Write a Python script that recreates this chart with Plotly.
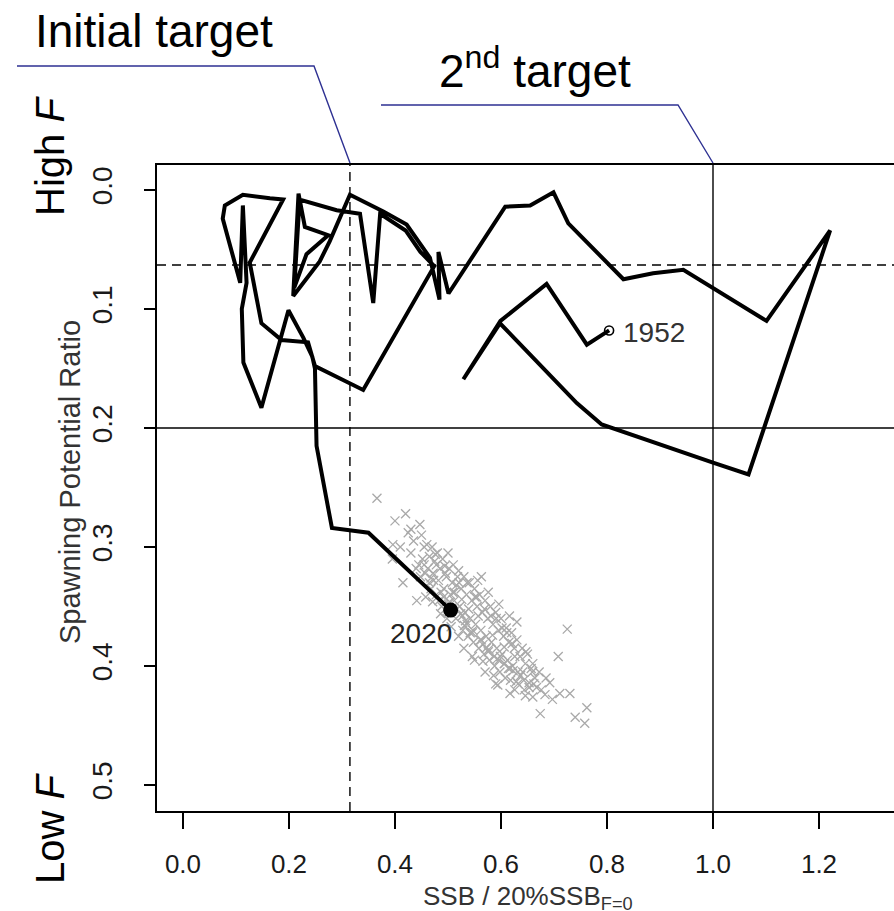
import plotly.graph_objects as go

# ---------------- data ----------------
x_ticks = [0.0, 0.2, 0.4, 0.6, 0.8, 1.0, 1.2]
x_tick_labels = ["0.0", "0.2", "0.4", "0.6", "0.8", "1.0", "1.2"]
y_ticks = [0.0, 0.1, 0.2, 0.3, 0.4, 0.5]
y_tick_labels = ["0.0", "0.1", "0.2", "0.3", "0.4", "0.5"]

initial_target_x = 0.315
initial_target_y = 0.063
second_target_x = 1.0
second_target_y = 0.2

start_year = "1952"
end_year = "2020"

traj_x = [0.804, 0.762, 0.686, 0.599, 0.529, 0.598, 0.743, 0.790, 1.000, 1.067, 1.221, 1.101,
          0.944, 0.887, 0.831, 0.727, 0.699, 0.655, 0.608,
          0.501, 0.482, 0.484, 0.466, 0.444, 0.422, 0.378, 0.315, 0.277, 0.258, 0.208,
          0.218, 0.230, 0.274, 0.233, 0.210, 0.220, 0.290, 0.334, 0.359, 0.372, 0.420,
          0.448, 0.474, 0.340, 0.249, 0.236, 0.186, 0.148, 0.126, 0.189, 0.164, 0.113,
          0.079, 0.075, 0.094, 0.108, 0.113, 0.120, 0.111, 0.114, 0.148, 0.199, 0.227,
          0.244, 0.249, 0.252, 0.281, 0.315, 0.350, 0.505]
traj_y = [0.118, 0.130, 0.079, 0.110, 0.159, 0.112, 0.179, 0.197, 0.229, 0.239, 0.034, 0.110,
          0.067, 0.070, 0.075, 0.028, 0.002, 0.013, 0.014,
          0.087, 0.052, 0.092, 0.057, 0.043, 0.029, 0.018, 0.004, 0.043, 0.060, 0.089,
          0.003, 0.031, 0.038, 0.054, 0.082, 0.008, 0.017, 0.020, 0.095, 0.020, 0.034,
          0.052, 0.064, 0.168, 0.148, 0.128, 0.126, 0.112, 0.061, 0.008, 0.007, 0.004,
          0.013, 0.024, 0.057, 0.078, 0.013, 0.078, 0.100, 0.145, 0.183, 0.101, 0.124,
          0.140, 0.150, 0.215, 0.284, 0.286, 0.288, 0.353]

cloud_x = [0.366, 0.447, 0.425, 0.396, 0.441, 0.415, 0.725, 0.630, 0.758, 0.762, 0.740, 0.674,
           0.660, 0.711, 0.730, 0.708, 0.692, 0.617, 0.594,
           0.430, 0.430, 0.435, 0.440,
           0.450, 0.452, 0.448, 0.455,
           0.460, 0.462, 0.465, 0.458,
           0.470, 0.472, 0.475, 0.468,
           0.480, 0.482, 0.478, 0.485,
           0.490, 0.492, 0.488, 0.495,
           0.500, 0.502, 0.505, 0.498, 0.508,
           0.510, 0.512, 0.515, 0.518,
           0.520, 0.522, 0.525, 0.528,
           0.530, 0.532, 0.535, 0.538,
           0.540, 0.542, 0.545, 0.548,
           0.550, 0.552, 0.555, 0.558,
           0.560, 0.562, 0.565, 0.568, 0.563,
           0.570, 0.572, 0.575, 0.578,
           0.580, 0.582, 0.585, 0.588,
           0.590, 0.592, 0.595, 0.598,
           0.600, 0.602, 0.605, 0.608,
           0.610, 0.612, 0.615, 0.618,
           0.620, 0.622, 0.625,
           0.630, 0.632, 0.636,
           0.640, 0.643, 0.646,
           0.650, 0.653, 0.657,
           0.660, 0.664,
           0.672, 0.676,
           0.685,
           0.400, 0.410, 0.395, 0.420,
           0.520, 0.530, 0.550, 0.570, 0.590,
           0.445, 0.457, 0.473, 0.487, 0.503, 0.517, 0.533, 0.547, 0.563, 0.577, 0.593,
           0.607, 0.623, 0.637, 0.653, 0.667, 0.683, 0.697,
           0.465, 0.478, 0.492, 0.507, 0.521, 0.536, 0.551, 0.566, 0.581, 0.596, 0.611,
           0.626, 0.641, 0.497, 0.512, 0.527, 0.542, 0.557, 0.572, 0.587, 0.602, 0.617,
           0.632, 0.647, 0.662,
           0.455, 0.468, 0.476, 0.483, 0.494, 0.501, 0.509, 0.516, 0.524, 0.531,
           0.539, 0.546, 0.554, 0.561, 0.569, 0.576, 0.584, 0.591, 0.599, 0.606,
           0.614, 0.621, 0.629, 0.644, 0.659,
           0.471, 0.486, 0.506, 0.526, 0.546, 0.566, 0.586, 0.606, 0.626, 0.646,
           0.536, 0.556, 0.576, 0.596, 0.616]
cloud_y = [0.259, 0.281, 0.288, 0.298, 0.345, 0.330, 0.369, 0.363, 0.448, 0.435, 0.443, 0.440,
           0.426, 0.423, 0.423, 0.392, 0.414, 0.423, 0.416,
           0.285, 0.305, 0.295, 0.318,
           0.290, 0.310, 0.325, 0.300,
           0.298, 0.318, 0.330, 0.342,
           0.300, 0.322, 0.312, 0.335,
           0.305, 0.328, 0.340, 0.318,
           0.310, 0.335, 0.350, 0.322,
           0.305, 0.318, 0.340, 0.360, 0.330,
           0.315, 0.345, 0.360, 0.325,
           0.320, 0.350, 0.335, 0.370,
           0.325, 0.355, 0.340, 0.375,
           0.330, 0.360, 0.345, 0.380,
           0.335, 0.365, 0.350, 0.385,
           0.340, 0.370, 0.355, 0.390, 0.325,
           0.345, 0.375, 0.360, 0.395,
           0.350, 0.380, 0.365, 0.400,
           0.355, 0.385, 0.370, 0.405,
           0.360, 0.390, 0.375, 0.410,
           0.368, 0.395, 0.380, 0.412,
           0.372, 0.400, 0.385,
           0.378, 0.405, 0.392,
           0.385, 0.412, 0.398,
           0.390, 0.418, 0.402,
           0.398, 0.410,
           0.405, 0.420,
           0.410,
           0.278, 0.300, 0.310, 0.272,
           0.375, 0.385, 0.395, 0.405, 0.415,
           0.315, 0.322, 0.328, 0.338, 0.346, 0.352, 0.362, 0.370, 0.378, 0.386, 0.394,
           0.398, 0.404, 0.408, 0.414, 0.418, 0.424, 0.428,
           0.308, 0.315, 0.342, 0.352, 0.330, 0.365, 0.342, 0.382, 0.358, 0.395, 0.372,
           0.392, 0.405, 0.325, 0.338, 0.358, 0.372, 0.358, 0.385, 0.392, 0.368, 0.402,
           0.415, 0.388, 0.415,
           0.315, 0.326, 0.306, 0.345, 0.316, 0.348, 0.338, 0.332, 0.356, 0.366,
           0.352, 0.372, 0.342, 0.378, 0.352, 0.388, 0.374, 0.360, 0.392, 0.384,
           0.402, 0.381, 0.413, 0.420, 0.405,
           0.346, 0.356, 0.367, 0.344, 0.392, 0.396, 0.408, 0.398, 0.420, 0.425,
           0.330, 0.328, 0.338, 0.348, 0.358]

# ---------------- layout helpers ----------------
W, H = 894, 911
ML, MR, MT, MB = 157, 0, 165, 100
FONT = "Liberation Sans, Arial, Helvetica, sans-serif"


def px_x(p):
    return (p - ML) / (W - ML - MR)


def px_y(p):
    return (H - MB - p) / (H - MT - MB)


fig = go.Figure()

fig.add_trace(go.Scatter(
    x=cloud_x, y=cloud_y, mode="markers",
    marker=dict(symbol="x-thin-open", size=9, color="#a9a9a9",
                line=dict(width=1.3, color="#a9a9a9")),
    hoverinfo="skip", showlegend=False))

fig.add_trace(go.Scatter(
    x=traj_x, y=traj_y, mode="lines",
    line=dict(color="black", width=4),
    hoverinfo="skip", showlegend=False))

fig.add_trace(go.Scatter(
    x=[traj_x[0]], y=[traj_y[0]], mode="markers",
    marker=dict(symbol="circle-open", size=9, color="black", line=dict(width=1.6)),
    showlegend=False, hoverinfo="skip"))

fig.add_trace(go.Scatter(
    x=[traj_x[-1]], y=[traj_y[-1]], mode="markers",
    marker=dict(symbol="circle", size=15, color="black"),
    showlegend=False, hoverinfo="skip"))

shapes = [
    dict(type="line", xref="x", yref="paper", x0=initial_target_x, x1=initial_target_x,
         y0=0, y1=1, line=dict(color="black", width=1.4, dash="9px,6px")),
    dict(type="line", xref="x", yref="paper", x0=second_target_x, x1=second_target_x,
         y0=0, y1=1, line=dict(color="black", width=1.4)),
    dict(type="line", xref="paper", yref="y", x0=0, x1=1,
         y0=initial_target_y, y1=initial_target_y,
         line=dict(color="black", width=1.4, dash="9px,6px")),
    dict(type="line", xref="paper", yref="y", x0=0, x1=1,
         y0=second_target_y, y1=second_target_y, line=dict(color="black", width=1.4)),
    dict(type="path", xref="paper", yref="paper",
         path=f"M {px_x(17)} {px_y(66)} L {px_x(314)} {px_y(66)} L {px_x(350)} {px_y(163)}",
         line=dict(color="#2e3192", width=1.4)),
    dict(type="path", xref="paper", yref="paper",
         path=f"M {px_x(381)} {px_y(105)} L {px_x(678)} {px_y(105)} L {px_x(713)} {px_y(163)}",
         line=dict(color="#2e3192", width=1.4)),
]

annotations = [
    dict(text="Initial target", xref="paper", yref="paper", x=px_x(33), y=px_y(31),
         xanchor="left", yanchor="middle", showarrow=False,
         font=dict(size=46, color="black", family=FONT)),
    dict(text="2<sup>nd</sup> target", xref="paper", yref="paper", x=px_x(437), y=px_y(68),
         xanchor="left", yanchor="middle", showarrow=False,
         font=dict(size=46, color="black", family=FONT)),
    dict(text="High <i>F</i>", xref="paper", yref="paper", x=px_x(50), y=px_y(156),
         xanchor="center", yanchor="middle", textangle=-90, showarrow=False,
         font=dict(size=40, color="black", family=FONT)),
    dict(text="Low <i>F</i>", xref="paper", yref="paper", x=px_x(50), y=px_y(828),
         xanchor="center", yanchor="middle", textangle=-90, showarrow=False,
         font=dict(size=40, color="black", family=FONT)),
    dict(text="Spawning Potential Ratio", xref="paper", yref="paper", x=px_x(70), y=px_y(482),
         xanchor="center", yanchor="middle", textangle=-90, showarrow=False,
         font=dict(size=29, color="#333333", family=FONT)),
    dict(text="SSB / 20%SSB<sub>F=0</sub>", xref="paper", yref="paper", x=px_x(528), y=px_y(911),
         xanchor="center", yanchor="bottom", yshift=-5, showarrow=False,
         font=dict(size=26, color="#333333", family=FONT)),
    dict(text=start_year, xref="x", yref="y", x=traj_x[0], y=traj_y[0],
         xanchor="left", yanchor="middle", xshift=12, yshift=-2, showarrow=False,
         font=dict(size=28, color="#333333", family=FONT)),
    dict(text=end_year, xref="x", yref="y", x=traj_x[-1], y=traj_y[-1],
         xanchor="right", yanchor="top", xshift=3, yshift=-6, showarrow=False,
         font=dict(size=28, color="#222222", family=FONT)),
]

fig.update_layout(
    width=W, height=H,
    margin=dict(l=ML, r=MR, t=MT, b=MB, pad=0, autoexpand=False),
    paper_bgcolor="white", plot_bgcolor="white",
    font=dict(family=FONT, color="#1a1a1a"),
    shapes=shapes, annotations=annotations, showlegend=False,
    xaxis=dict(range=[-0.049, 1.3415], tickvals=x_ticks, ticktext=x_tick_labels,
               ticks="outside", ticklen=16, tickwidth=1.5, tickcolor="black",
               showline=True, linecolor="black", linewidth=1.5, mirror=True,
               showgrid=False, zeroline=False, ticklabelstandoff=13, automargin=False,
               tickfont=dict(size=26, color="#1a1a1a", family=FONT)),
    yaxis=dict(range=[0.5218, -0.021], tickvals=y_ticks, ticktext=y_tick_labels,
               ticks="outside", ticklen=11, tickwidth=1.5, tickcolor="black",
               showline=True, linecolor="black", linewidth=1.5, mirror=False,
               showgrid=False, zeroline=False, tickangle=-90, ticklabelstandoff=21,
               automargin=False,
               tickfont=dict(size=28, color="#1a1a1a", family=FONT)),
)

fig.write_html("out.html", config={"displayModeBar": False},
               post_script="document.body.style.margin='0px';")
